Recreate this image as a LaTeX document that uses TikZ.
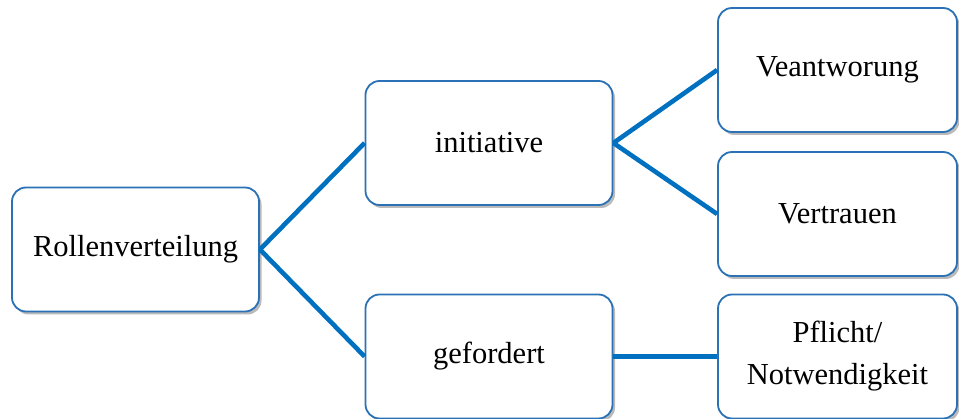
\documentclass[tikz,border=0pt]{standalone}
\usepackage{fontspec}
\setmainfont{Liberation Serif}
\usetikzlibrary{shadows}
\definecolor{lineblue}{HTML}{0070C0}
\definecolor{boxblue}{HTML}{2A72B5}
\tikzset{
  box/.style={draw=boxblue, line width=1.8pt, rounded corners=14pt, fill=white,
    inner sep=0pt, align=center, font=\fontsize{30.5}{42}\selectfont,
    drop shadow={shadow xshift=2.5pt, shadow yshift=-3pt, opacity=0.45, fill=black!60}},
  leftbox/.style={box, minimum width=247pt, minimum height=124pt},
  rightbox/.style={box, minimum width=239pt, minimum height=124pt},
  conn/.style={draw=lineblue, line width=4.6pt}
}
\begin{document}
\begin{tikzpicture}[x=1pt, y=-1pt]
\useasboundingbox (0,0) rectangle (959,419);
\node[leftbox] (rol) at (135.5,249.5) {Rollenverteilung};
\node[leftbox] (ini) at (489,143) {initiative};
\node[leftbox] (gef) at (489,356.5) {gefordert};
\node[rightbox] (vea) at (837.5,70) {Veantworung};
\node[rightbox] (ver) at (837.5,214) {Vertrauen};
\node[rightbox] (pfl) at (837.5,356.5) {Pflicht/\\Notwendigkeit};
\draw[conn] (rol.east) -- (ini.west);
\draw[conn] (rol.east) -- (gef.west);
\draw[conn] (ini.east) -- (vea.west);
\draw[conn] (ini.east) -- (ver.west);
\draw[conn] (gef.east) -- (pfl.west);
\end{tikzpicture}
\end{document}
